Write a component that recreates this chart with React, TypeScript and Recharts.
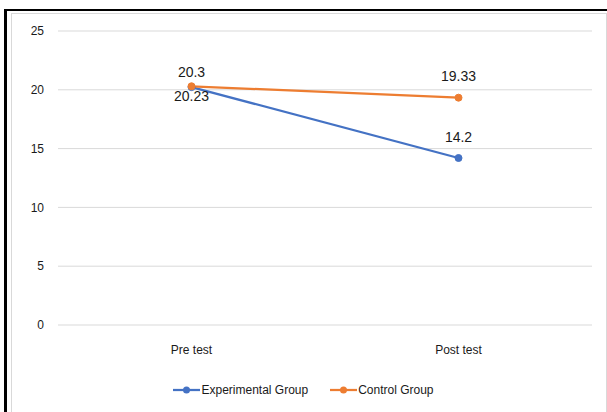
import React from "react";
import { LineChart, Line, XAxis, YAxis, CartesianGrid, LabelList, Legend } from "recharts";

const categories = ["Pre test", "Post test"];
const experimental = [20.23, 14.2];
const control = [20.3, 19.33];
const yTicks = [0, 5, 10, 15, 20, 25];

const data = categories.map((c, i) => ({ name: c, exp: experimental[i], ctl: control[i] }));

const BLUE = "#4472C4";
const ORANGE = "#ED7D31";
const FONT = "'Liberation Sans', Arial, sans-serif";

const makeLabel = (offsets: number[]) => (props: any) => {
  const { x, y, value, index } = props;
  return (
    <text
      x={x}
      y={y + offsets[index]}
      textAnchor="middle"
      dominantBaseline="middle"
      fontSize={14}
      fontFamily={FONT}
      fill="#1a1a1a"
    >
      {value}
    </text>
  );
};

const LegendContent = () => {
  const items = [
    { name: "Experimental Group", color: BLUE },
    { name: "Control Group", color: ORANGE },
  ];
  return (
    <div style={{ display: "flex", justifyContent: "center", alignItems: "center", fontFamily: FONT, fontSize: 12, color: "#1a1a1a" }}>
      {items.map((it, i) => (
        <div key={it.name} style={{ display: "flex", alignItems: "center", marginLeft: i ? 22 : 0 }}>
          <svg width={27} height={10} style={{ display: "block" }}>
            <line x1={0} y1={5} x2={27} y2={5} stroke={it.color} strokeWidth={2.25} />
            <circle cx={13.5} cy={5} r={3.5} fill={it.color} />
          </svg>
          <span style={{ marginLeft: 1 }}>{it.name}</span>
        </div>
      ))}
    </div>
  );
};

export default function App() {
  return (
    <div style={{ position: "absolute", left: 0, top: 0, width: 607, height: 412, background: "#fff", overflow: "hidden" }}>
      <div style={{ position: "absolute", left: 4, top: 9, width: 620, height: 420, borderLeft: "3px solid #000", borderTop: "2px solid #000" }} />
      <div style={{ position: "absolute", left: 11, top: 13, width: 594, height: 420, border: "1px solid #d9d9d9" }} />
      <div style={{ position: "absolute", left: 0, top: 0 }}>
        <LineChart width={607} height={412} data={data} margin={{ top: 31, right: 15, bottom: 57, left: 0 }}>
          <CartesianGrid vertical={false} stroke="#d9d9d9" />
          <XAxis
            dataKey="name"
            axisLine={false}
            tickLine={false}
            tickSize={0}
            tickMargin={20}
            height={16}
            padding={{ left: 133.5, right: 133.5 }}
            tick={{ fontSize: 12, fontFamily: FONT, fill: "#1a1a1a" }}
          />
          <YAxis
            domain={[0, 25]}
            ticks={yTicks}
            axisLine={false}
            tickLine={false}
            tickSize={0}
            tickMargin={14}
            width={58}
            tick={{ fontSize: 12, fontFamily: FONT, fill: "#1a1a1a" }}
          />
          <Legend content={<LegendContent />} verticalAlign="bottom" wrapperStyle={{ top: 383, left: 0, width: 607 }} />
          <Line
            type="linear"
            dataKey="exp"
            name="Experimental Group"
            stroke={BLUE}
            strokeWidth={2.25}
            dot={{ r: 3.5, fill: BLUE, stroke: BLUE, strokeWidth: 1 }}
            isAnimationActive={false}
          >
            <LabelList dataKey="exp" content={makeLabel([10, -20])} />
          </Line>
          <Line
            type="linear"
            dataKey="ctl"
            name="Control Group"
            stroke={ORANGE}
            strokeWidth={2.25}
            dot={{ r: 3.5, fill: ORANGE, stroke: ORANGE, strokeWidth: 1 }}
            isAnimationActive={false}
          >
            <LabelList dataKey="ctl" content={makeLabel([-13, -20])} />
          </Line>
        </LineChart>
      </div>
    </div>
  );
}
